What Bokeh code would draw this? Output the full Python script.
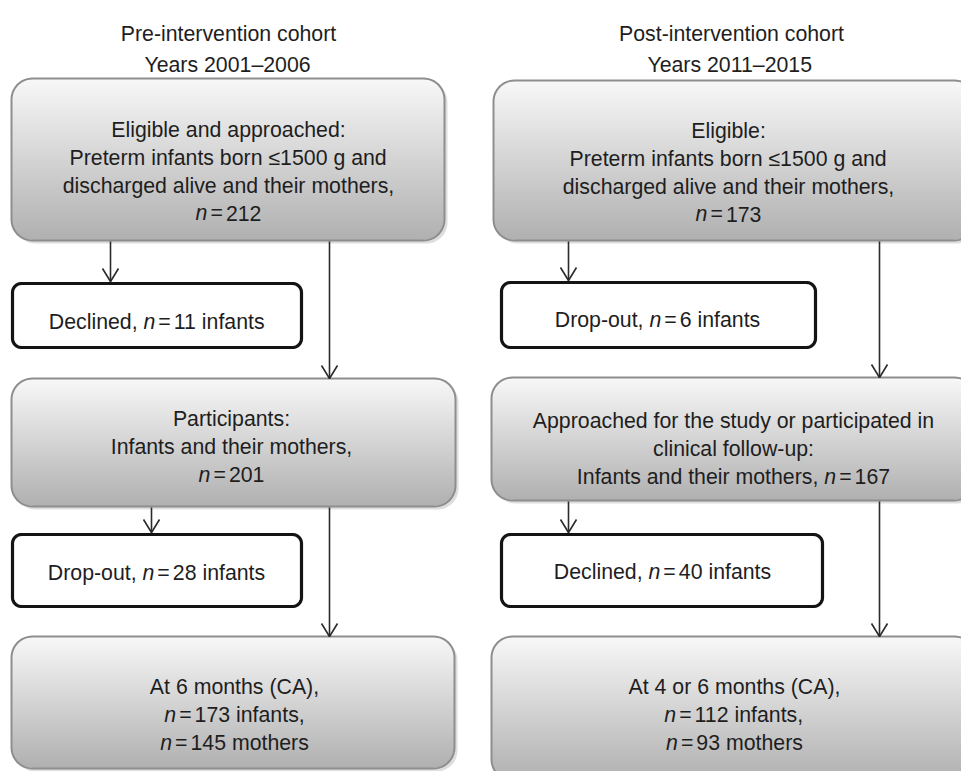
import numpy as np
from bokeh.plotting import figure
from bokeh.models import Range1d, ColumnDataSource
from bokeh.embed import file_html
from bokeh.resources import INLINE
from bokeh.core.properties import value

# ---------------- data ----------------
cohort_titles = ["Pre-intervention cohort", "Post-intervention cohort"]
cohort_years = ["Years 2001\u20132006", "Years 2011\u20132015"]
# pre: eligible, declined, participants, drop-out, infants at follow-up, mothers at follow-up
pre_counts = [212, 11, 201, 28, 173, 145]
# post: eligible, drop-out, approached/participated, declined, infants at follow-up, mothers at follow-up
post_counts = [173, 6, 167, 40, 112, 93]
pre_followup = "At 6 months (CA),"
post_followup = "At 4 or 6 months (CA),"

# ---------------- styling / layout ----------------
FS = 21.3
FONT = "Liberation Sans"
TXT = "#1e1e1e"
W = {' ': 278, '!': 278, '(': 333, ')': 333, ',': 278, '-': 333, '.': 278, ':': 278,
     '=': 584, '\u2264': 584, '\u2013': 556,
     'A': 667, 'B': 667, 'C': 722, 'D': 722, 'E': 667, 'F': 611, 'G': 778, 'H': 722,
     'I': 278, 'J': 500, 'K': 667, 'L': 556, 'M': 833, 'N': 722, 'O': 778, 'P': 667,
     'Q': 778, 'R': 722, 'S': 667, 'T': 611, 'U': 722, 'V': 667, 'W': 944, 'X': 667,
     'Y': 667, 'Z': 611,
     'a': 556, 'b': 556, 'c': 500, 'd': 556, 'e': 556, 'f': 278, 'g': 556, 'h': 556,
     'i': 222, 'j': 222, 'k': 500, 'l': 222, 'm': 833, 'n': 556, 'o': 556, 'p': 556,
     'q': 556, 'r': 333, 's': 500, 't': 278, 'u': 556, 'v': 500, 'w': 722, 'x': 500,
     'y': 500, 'z': 500}
GAP = 3.0
PW, PH = 961, 771


def tw(s):
    return sum(W.get(c, 556) for c in s) * FS / 1000.0


p = figure(width=PW, height=PH, output_backend="svg", toolbar_location=None,
           x_axis_type=None, y_axis_type=None, min_border=0,
           x_range=Range1d(0, PW), y_range=Range1d(PH, 0))
p.outline_line_color = None
p.background_fill_color = "white"
p.border_fill_color = "white"


def rrect_pts(x0, y0, x1, y1, r, n=14):
    xs, ys = [], []
    for cx, cy, a0 in [(x0 + r, y0 + r, 180), (x1 - r, y0 + r, 270),
                       (x1 - r, y1 - r, 0), (x0 + r, y1 - r, 90)]:
        a = np.radians(np.linspace(a0, a0 + 90, n))
        xs.extend(cx + r * np.cos(a))
        ys.extend(cy + r * np.sin(a))
    return xs, ys


def inset(y, y0, y1, r):
    if y < y0 + r:
        d = y0 + r - y
    elif y > y1 - r:
        d = y - (y1 - r)
    else:
        return 0.0
    return r - np.sqrt(max(r * r - d * d, 0.0))


def grad_box(x0, y0, x1, y1, r=21, c_top=248, c_bot=176):
    # soft shadow
    sx, sy = rrect_pts(x0 + 3, y0 + 3, x1 + 3, y1 + 3, r)
    p.patch(sx, sy, fill_color="#dedede", line_color=None)
    L, R, T, B, C = [], [], [], [], []
    step = 1.0
    yy = y0
    while yy < y1:
        yb = min(yy + step, y1)
        ins = max(inset(yy, y0, y1, r), inset(yb, y0, y1, r))
        t = ((yy + yb) / 2 - y0) / (y1 - y0)
        v = int(round(c_top + (c_bot - c_top) * t))
        L.append(x0 + ins)
        R.append(x1 - ins)
        T.append(max(yy - 0.4, y0))
        B.append(yb)
        C.append("#%02x%02x%02x" % (v, v, v))
        yy = yb
    p.quad(left=L, right=R, top=T, bottom=B, fill_color=C, line_color=None)
    bx, by = rrect_pts(x0, y0, x1, y1, r)
    p.patch(bx, by, fill_color=None, line_color="#8e8e8e", line_width=2)


def white_box(x0, y0, x1, y1, r=9):
    bx, by = rrect_pts(x0, y0, x1, y1, r)
    p.patch(bx, by, fill_color="white", line_color="#141414", line_width=3.2,
            line_join="round")


def arrow(x, y0, y1):
    p.segment(x0=[x], y0=[y0], x1=[x], y1=[y1], line_color="#2b2b2b", line_width=1.6)
    p.multi_line(xs=[[x - 8, x, x + 8]], ys=[[y1 - 13, y1, y1 - 13]],
                 line_color="#2b2b2b", line_width=1.6)


norm = dict(x=[], y=[], text=[])
ital = dict(x=[], y=[], text=[])


def nseg(v, suffix=""):
    return [("n", "i"), ("=", "eq"), ("%d%s" % (v, suffix), "r")]


def put_line(cx, y, segs):
    total = 0.0
    for s, st in segs:
        total += tw(s) + (2 * GAP if st == "eq" else 0)
    x = cx - total / 2.0
    for s, st in segs:
        if st == "eq":
            x += GAP
        tgt = ital if st == "i" else norm
        tgt["x"].append(x)
        tgt["y"].append(y)
        tgt["text"].append(s)
        x += tw(s)
        if st == "eq":
            x += GAP


def put_lines(cx, ys, lines):
    for y, segs in zip(ys, lines):
        if isinstance(segs, str):
            segs = [(segs, "r")]
        put_line(cx, y, segs)


# ---------------- headers ----------------
put_lines(228, [33, 64], [cohort_titles[0], cohort_years[0]])
put_lines(731, [33, 64], [cohort_titles[1], cohort_years[1]])

# ---------------- boxes ----------------
grad_box(11, 78, 444, 240)
grad_box(11, 378, 455, 506)
grad_box(11, 636, 454, 768)
grad_box(493, 80, 975, 240)
grad_box(491, 377, 975, 500)
grad_box(491, 636, 975, 780)

white_box(12, 283, 301, 347)
white_box(12, 534, 301, 606)
white_box(501, 282, 815, 347)
white_box(501, 534, 822, 606)

# ---------------- arrows ----------------
arrow(110, 241, 281)
arrow(329, 241, 378)
arrow(151, 507, 532)
arrow(329, 507, 636)
arrow(568, 241, 280)
arrow(879, 241, 377)
arrow(568, 501, 532)
arrow(879, 501, 636)

# ---------------- texts ----------------
put_lines(228, [129.5, 157.5, 185, 212.5], [
    "Eligible and approached:",
    "Preterm infants born \u22641500 g and",
    "discharged alive and their mothers,",
    nseg(pre_counts[0])])
put_lines(157, [321], [[("Declined, ", "r")] + nseg(pre_counts[1], " infants")])
put_lines(231, [418, 446.5, 474], [
    "Participants:",
    "Infants and their mothers,",
    nseg(pre_counts[2])])
put_lines(156, [572], [[("Drop-out, ", "r")] + nseg(pre_counts[3], " infants")])
put_lines(234, [686, 714, 742], [
    pre_followup,
    nseg(pre_counts[4], " infants,"),
    nseg(pre_counts[5], " mothers")])

put_lines(728, [130.5, 158, 186, 213.5], [
    "Eligible:",
    "Preterm infants born \u22641500 g and",
    "discharged alive and their mothers,",
    nseg(post_counts[0])])
put_lines(657, [319.5], [[("Drop-out, ", "r")] + nseg(post_counts[1], " infants")])
put_lines(733, [420, 448, 476], [
    "Approached for the study or participated in",
    "clinical follow-up:",
    [("Infants and their mothers, ", "r")] + nseg(post_counts[2])])
put_lines(662, [571], [[("Declined, ", "r")] + nseg(post_counts[3], " infants")])
put_lines(734, [686, 714, 742], [
    post_followup,
    nseg(post_counts[4], " infants,"),
    nseg(post_counts[5], " mothers")])

p.text(x="x", y="y", text="text", source=ColumnDataSource(norm),
       text_font=value(FONT), text_font_size=value("%.1fpx" % FS),
       text_color=TXT, text_align="left", text_baseline="alphabetic")
p.text(x="x", y="y", text="text", source=ColumnDataSource(ital),
       text_font=value(FONT), text_font_size=value("%.1fpx" % FS),
       text_font_style="italic",
       text_color=TXT, text_align="left", text_baseline="alphabetic")

open("out.html", "w").write(file_html(p, INLINE))
